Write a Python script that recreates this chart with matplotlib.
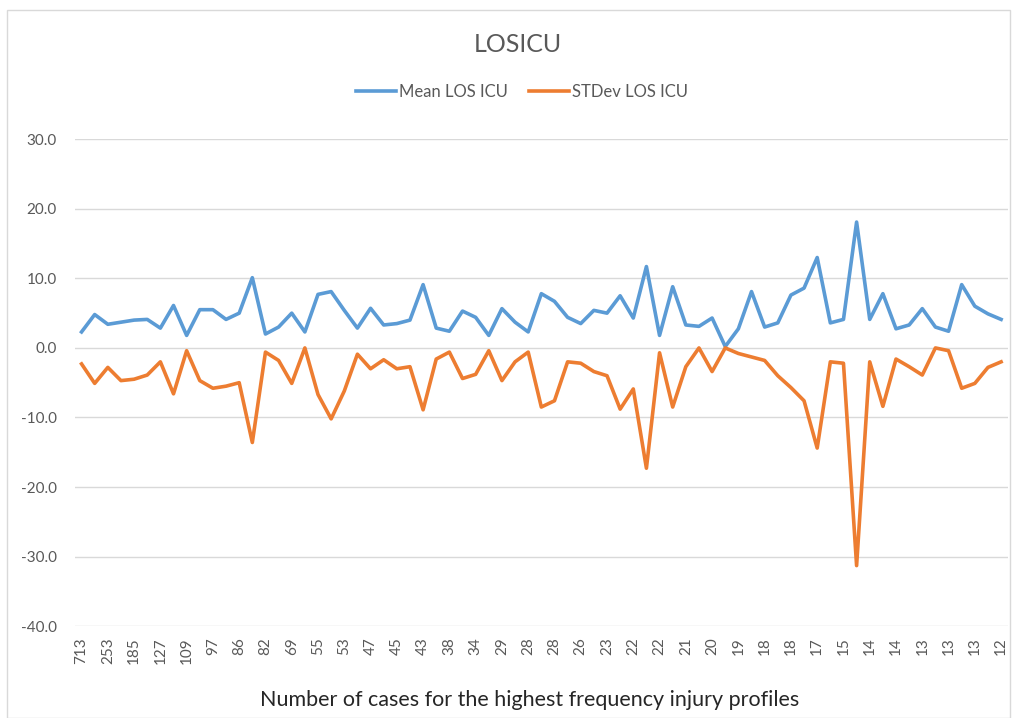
import matplotlib
matplotlib.use("Agg")
import matplotlib.pyplot as plt
from matplotlib.patches import Rectangle

plt.rcParams['font.family'] = ['Lato', 'DejaVu Sans']

# %%
# values (71 injury profiles, every other one labelled)
case_labels = ['713', '253', '185', '127', '109', '97', '86', '82', '69', '55',
               '53', '47', '45', '43', '38', '34', '29', '28', '28', '26',
               '23', '22', '22', '21', '20', '19', '18', '18', '17', '15',
               '14', '14', '13', '13', '13', '12']

mean_los_icu = [2.3, 4.8, 3.4, 3.7, 4.0, 4.1, 2.85, 6.1, 1.8, 5.5,
                5.5, 4.1, 5.0, 10.1, 2.0, 3.0, 5.0, 2.3, 7.7, 8.1,
                5.4, 2.85, 5.7, 3.3, 3.5, 4.0, 9.1, 2.85, 2.4, 5.3,
                4.4, 1.8, 5.65, 3.7, 2.3, 7.8, 6.7, 4.4, 3.5, 5.4,
                5.0, 7.5, 4.3, 11.7, 1.8, 8.8, 3.3, 3.1, 4.3, 0.2,
                2.75, 8.1, 3.0, 3.6, 7.6, 8.6, 13.0, 3.6, 4.1, 18.1,
                4.1, 7.8, 2.75, 3.3, 5.65, 3.0, 2.4, 9.1, 6.0, 4.9,
                4.1]

stdev_los_icu = [-2.3, -5.1, -2.8, -4.7, -4.5, -3.9, -2.0, -6.6, -0.4, -4.7,
                 -5.8, -5.5, -5.0, -13.6, -0.6, -1.8, -5.1, 0.0, -6.7, -10.2,
                 -6.2, -0.9, -3.0, -1.7, -3.0, -2.7, -8.9, -1.6, -0.6, -4.4,
                 -3.8, -0.4, -4.7, -2.0, -0.6, -8.5, -7.6, -2.0, -2.2, -3.4,
                 -4.0, -8.8, -5.9, -17.3, -0.7, -8.5, -2.7, 0.0, -3.4, 0.0,
                 -0.8, -1.3, -1.8, -4.0, -5.7, -7.6, -14.4, -2.0, -2.2, -31.3,
                 -2.0, -8.4, -1.6, -2.7, -3.9, 0.0, -0.4, -5.8, -5.1, -2.8,
                 -2.0]

y_ticks = [30, 20, 10, 0, -10, -20, -30, -40]

# %%
fig = plt.figure(figsize=(10.16, 7.18), dpi=100)
ax = fig.add_axes([0.0738, 0.128, 0.918, 0.678])

x = list(range(len(mean_los_icu)))
ax.plot(x, mean_los_icu, color='#5B9BD5', lw=2.6, label='Mean LOS ICU',
        solid_joinstyle='round', zorder=3)
ax.plot(x, stdev_los_icu, color='#ED7D31', lw=2.6, label='STDev LOS ICU',
        solid_joinstyle='round', zorder=3)

ax.set_xlim(-0.5, len(x) - 0.5)
ax.set_ylim(-40, 30)
ax.set_yticks(y_ticks)
ax.set_yticklabels([f'{v:.1f}' for v in y_ticks])
ax.set_xticks(x[::2])
ax.set_xticklabels(case_labels, rotation=90)

ax.grid(axis='y', color='#D9D9D9', lw=1)
ax.set_axisbelow(True)
for s in ax.spines.values():
    s.set_visible(False)
ax.tick_params(axis='both', length=0, colors='#595959', labelsize=11)
ax.tick_params(axis='y', pad=13)
ax.tick_params(axis='x', pad=8)

fig.text(530 / 1016, 1 - 700 / 718,
         'Number of cases for the highest frequency injury profiles',
         ha='center', va='center', fontsize=15.5, color='#262626')

fig.text(518 / 1016, 1 - 45 / 718, 'LOSICU', ha='center', va='center',
         fontsize=18, color='#595959')
fig.legend(loc='center', bbox_to_anchor=(522 / 1016, 1 - 92 / 718), ncol=2,
           frameon=False, fontsize=12, labelcolor='#595959',
           handlelength=2.4, handletextpad=0.2, columnspacing=1.25)

# chart area border
fig.patches.append(Rectangle((7 / 1016, 0.0), 1003 / 1016, 1 - 10 / 718,
                             transform=fig.transFigure, fill=False,
                             edgecolor='#D9D9D9', lw=1))

fig.savefig('out.png', dpi=100)
